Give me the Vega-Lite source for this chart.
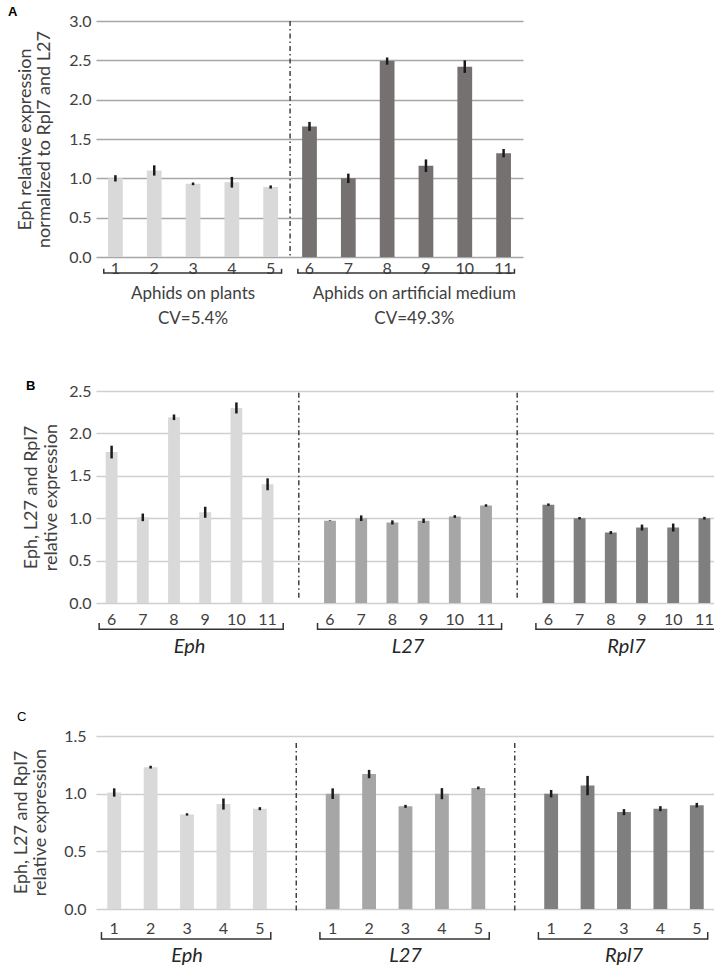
{
  "$schema": "https://vega.github.io/schema/vega-lite/v6.json",
  "padding": {"left": 8, "top": 5, "right": 2, "bottom": 2},
  "background": "white",
  "resolve": {"scale": {"color": "independent"}},
  "config": {
    "view": {"stroke": null},
    "font": "Lato",
    "axis": {"labelFont": "Lato", "titleFont": "Lato", "labelColor": "#404040", "titleColor": "#404040", "titleFontWeight": "normal"},
    "title": {"font": "Liberation Sans", "fontSize": 13, "fontWeight": "bold", "color": "#000000", "anchor": "start", "frame": "bounds"}
  },
  "datasets": {
    "A": [
      {"key": "1", "grp": "plants", "value": 1.00, "err": 0.04},
      {"key": "2", "grp": "plants", "value": 1.10, "err": 0.065},
      {"key": "3", "grp": "plants", "value": 0.93, "err": 0.017},
      {"key": "4", "grp": "plants", "value": 0.95, "err": 0.068},
      {"key": "5", "grp": "plants", "value": 0.89, "err": 0.02},
      {"key": "6", "grp": "medium", "value": 1.66, "err": 0.057},
      {"key": "7", "grp": "medium", "value": 1.00, "err": 0.06},
      {"key": "8", "grp": "medium", "value": 2.49, "err": 0.046},
      {"key": "9", "grp": "medium", "value": 1.16, "err": 0.08},
      {"key": "10", "grp": "medium", "value": 2.42, "err": 0.08},
      {"key": "11", "grp": "medium", "value": 1.32, "err": 0.053}
    ],
    "Agrp": [
      {"grp": "plants", "first": "1", "last": "5", "mid": "3", "label": "Aphids on plants\nCV=5.4%"},
      {"grp": "medium", "first": "6", "last": "11", "mid": "9", "label": "Aphids on artificial medium\nCV=49.3%"}
    ],
    "Adiv": [{"key": "6"}],
    "B": [
      {"key": "Eph-6", "gene": "Eph", "value": 1.78, "err": 0.075},
      {"key": "Eph-7", "gene": "Eph", "value": 1.01, "err": 0.045},
      {"key": "Eph-8", "gene": "Eph", "value": 2.19, "err": 0.033},
      {"key": "Eph-9", "gene": "Eph", "value": 1.07, "err": 0.065},
      {"key": "Eph-10", "gene": "Eph", "value": 2.30, "err": 0.065},
      {"key": "Eph-11", "gene": "Eph", "value": 1.40, "err": 0.07},
      {"key": "L27-6", "gene": "L27", "value": 0.97, "err": 0.004},
      {"key": "L27-7", "gene": "L27", "value": 1.00, "err": 0.033},
      {"key": "L27-8", "gene": "L27", "value": 0.95, "err": 0.024},
      {"key": "L27-9", "gene": "L27", "value": 0.97, "err": 0.026},
      {"key": "L27-10", "gene": "L27", "value": 1.02, "err": 0.016},
      {"key": "L27-11", "gene": "L27", "value": 1.15, "err": 0.014},
      {"key": "Rpl7-6", "gene": "Rpl7", "value": 1.16, "err": 0.014},
      {"key": "Rpl7-7", "gene": "Rpl7", "value": 1.00, "err": 0.014},
      {"key": "Rpl7-8", "gene": "Rpl7", "value": 0.83, "err": 0.018},
      {"key": "Rpl7-9", "gene": "Rpl7", "value": 0.89, "err": 0.035},
      {"key": "Rpl7-10", "gene": "Rpl7", "value": 0.89, "err": 0.047},
      {"key": "Rpl7-11", "gene": "Rpl7", "value": 1.00, "err": 0.016}
    ],
    "Bgrp": [
      {"first": "Eph-6", "last": "Eph-11", "mid": "Eph-9", "label": "Eph"},
      {"first": "L27-6", "last": "L27-11", "mid": "L27-9", "label": "L27"},
      {"first": "Rpl7-6", "last": "Rpl7-11", "mid": "Rpl7-9", "label": "Rpl7"}
    ],
    "Bdiv": [{"key": "g1"}, {"key": "g2"}],
    "C": [
      {"key": "Eph-1", "gene": "Eph", "value": 1.01, "err": 0.036},
      {"key": "Eph-2", "gene": "Eph", "value": 1.23, "err": 0.012},
      {"key": "Eph-3", "gene": "Eph", "value": 0.82, "err": 0.01},
      {"key": "Eph-4", "gene": "Eph", "value": 0.91, "err": 0.048},
      {"key": "Eph-5", "gene": "Eph", "value": 0.87, "err": 0.013},
      {"key": "L27-1", "gene": "L27", "value": 1.00, "err": 0.046},
      {"key": "L27-2", "gene": "L27", "value": 1.17, "err": 0.036},
      {"key": "L27-3", "gene": "L27", "value": 0.89, "err": 0.013},
      {"key": "L27-4", "gene": "L27", "value": 1.00, "err": 0.048},
      {"key": "L27-5", "gene": "L27", "value": 1.05, "err": 0.012},
      {"key": "Rpl7-1", "gene": "Rpl7", "value": 1.00, "err": 0.032},
      {"key": "Rpl7-2", "gene": "Rpl7", "value": 1.07, "err": 0.084},
      {"key": "Rpl7-3", "gene": "Rpl7", "value": 0.84, "err": 0.026},
      {"key": "Rpl7-4", "gene": "Rpl7", "value": 0.87, "err": 0.022},
      {"key": "Rpl7-5", "gene": "Rpl7", "value": 0.90, "err": 0.02}
    ],
    "Cgrp": [
      {"first": "Eph-1", "last": "Eph-5", "mid": "Eph-3", "label": "Eph"},
      {"first": "L27-1", "last": "L27-5", "mid": "L27-3", "label": "L27"},
      {"first": "Rpl7-1", "last": "Rpl7-5", "mid": "Rpl7-3", "label": "Rpl7"}
    ],
    "Cdiv": [{"key": "g1"}, {"key": "g2"}]
  },
  "vconcat": [
    {
      "width": 427, "height": 236,
      "title": {"text": "A", "dx": -8, "offset": -5.5},
      "resolve": {"axis": {"x": "independent", "y": "independent"}},
      "layer": [
        {
          "data": {"name": "A"},
          "mark": {"type": "bar", "width": {"band": 0.38}},
          "encoding": {
            "x": {"field": "key", "type": "nominal", "sort": null,
              "scale": {"domain": ["1","2","3","4","5","6","7","8","9","10","11"], "paddingInner": 0, "paddingOuter": 0},
              "axis": {"title": null, "ticks": false, "domain": false, "labelAngle": 0, "labelFontSize": 16, "labelPadding": 3}},
            "y": {"field": "value", "type": "quantitative",
              "scale": {"domain": [0, 3], "nice": false},
              "axis": {"values": [0, 0.5, 1, 1.5, 2, 2.5, 3], "format": ".1f", "ticks": false, "domain": false, "labelFontSize": 16, "labelPadding": 5,
                "gridColor": "#a6a6a6", "gridWidth": 1.5,
                "title": ["Eph relative expression", "normalized to Rpl7 and L27"], "titleFontSize": 18, "titleLineHeight": 19,
                "titleAngle": 270, "titleBaseline": "top", "titleAlign": "center", "titleX": -80, "titleY": 118}},
            "color": {"field": "grp", "type": "nominal", "scale": {"domain": ["plants", "medium"], "range": ["#d9d9d9", "#767171"]}, "legend": null}
          }
        },
        {
          "data": {"name": "A"},
          "mark": {"type": "errorbar", "thickness": 2.5, "color": "#1a1a1a"},
          "encoding": {
            "x": {"field": "key", "type": "nominal", "sort": null, "axis": null, "scale": {"domain": ["1","2","3","4","5","6","7","8","9","10","11"]}},
            "y": {"field": "value", "type": "quantitative", "axis": null},
            "yError": {"field": "err"}
          }
        },
        {
          "data": {"name": "Adiv"},
          "mark": {"type": "rule", "color": "#404040", "strokeWidth": 1.5, "strokeDash": [5, 3, 1.5, 3]},
          "encoding": {
            "x": {"field": "key", "type": "nominal", "sort": null, "axis": null, "bandPosition": 0, "scale": {"domain": ["1","2","3","4","5","6","7","8","9","10","11"]}},
            "y": {"datum": 3, "axis": null},
            "y2": {"datum": -0.01}
          }
        },
        {
          "data": {"name": "Agrp"},
          "mark": {"type": "rule", "color": "#333333", "strokeWidth": 1.5},
          "encoding": {
            "x": {"field": "first", "type": "nominal", "sort": null, "axis": null, "bandPosition": 0.2, "scale": {"domain": ["1","2","3","4","5","6","7","8","9","10","11"]}},
            "x2": {"field": "last", "bandPosition": 0.78},
            "y": {"datum": -0.203, "axis": null}
          }
        },
        {
          "data": {"name": "Agrp"},
          "mark": {"type": "rule", "color": "#333333", "strokeWidth": 1.5},
          "encoding": {
            "x": {"field": "first", "type": "nominal", "sort": null, "axis": null, "bandPosition": 0.2, "scale": {"domain": ["1","2","3","4","5","6","7","8","9","10","11"]}},
            "y": {"datum": -0.212, "axis": null},
            "y2": {"datum": -0.15}
          }
        },
        {
          "data": {"name": "Agrp"},
          "mark": {"type": "rule", "color": "#333333", "strokeWidth": 1.5},
          "encoding": {
            "x": {"field": "last", "type": "nominal", "sort": null, "axis": null, "bandPosition": 0.78, "scale": {"domain": ["1","2","3","4","5","6","7","8","9","10","11"]}},
            "y": {"datum": -0.212, "axis": null},
            "y2": {"datum": -0.15}
          }
        },
        {
          "data": {"name": "Agrp"},
          "transform": [{"filter": "datum.grp == 'plants'"}],
          "mark": {"type": "text", "fontSize": 17, "color": "#404040", "lineBreak": "\n", "lineHeight": 25, "baseline": "middle", "align": "center"},
          "encoding": {
            "x": {"field": "mid", "type": "nominal", "sort": null, "axis": null, "bandPosition": 0.5, "scale": {"domain": ["1","2","3","4","5","6","7","8","9","10","11"]}},
            "y": {"datum": -0.47, "axis": null},
            "text": {"field": "label"}
          }
        },
        {
          "data": {"name": "Agrp"},
          "transform": [{"filter": "datum.grp == 'medium'"}],
          "mark": {"type": "text", "fontSize": 17, "color": "#404040", "lineBreak": "\n", "lineHeight": 25, "baseline": "middle", "align": "center"},
          "encoding": {
            "x": {"field": "mid", "type": "nominal", "sort": null, "axis": null, "bandPosition": 0.2, "scale": {"domain": ["1","2","3","4","5","6","7","8","9","10","11"]}},
            "y": {"datum": -0.47, "axis": null},
            "text": {"field": "label"}
          }
        }
      ]
    },
    {
      "width": 624, "height": 212,
      "title": {"text": "B", "dx": 4, "offset": -9.5},
      "resolve": {"axis": {"x": "independent", "y": "independent"}},
      "layer": [
        {
          "data": {"name": "B"},
          "mark": {"type": "bar", "width": {"band": 0.38}},
          "encoding": {
            "x": {"field": "key", "type": "nominal", "sort": null,
              "scale": {"domain": ["Eph-6","Eph-7","Eph-8","Eph-9","Eph-10","Eph-11","g1","L27-6","L27-7","L27-8","L27-9","L27-10","L27-11","g2","Rpl7-6","Rpl7-7","Rpl7-8","Rpl7-9","Rpl7-10","Rpl7-11"], "paddingInner": 0, "paddingOuter": 0},
              "axis": {"title": null, "ticks": false, "domain": false, "labelAngle": 0, "labelFontSize": 16, "labelPadding": 8,
                "labelExpr": "indexof(datum.value, '-') >= 0 ? split(datum.value, '-')[1] : ''"}},
            "y": {"field": "value", "type": "quantitative",
              "scale": {"domain": [0, 2.5], "nice": false},
              "axis": {"values": [0, 0.5, 1, 1.5, 2, 2.5], "format": ".1f", "ticks": false, "domain": false, "labelFontSize": 16, "labelPadding": 5,
                "gridColor": "#cfcfcf", "gridWidth": 1.5,
                "title": ["Eph, L27 and Rpl7", "relative expression"], "titleFontSize": 18, "titleLineHeight": 20,
                "titleAngle": 270, "titleBaseline": "top", "titleAlign": "center", "titleX": -74, "titleY": 106}},
            "color": {"field": "gene", "type": "nominal", "scale": {"domain": ["Eph", "L27", "Rpl7"], "range": ["#d9d9d9", "#a6a6a6", "#7f7f7f"]}, "legend": null}
          }
        },
        {
          "data": {"name": "B"},
          "mark": {"type": "errorbar", "thickness": 2.5, "color": "#1a1a1a"},
          "encoding": {
            "x": {"field": "key", "type": "nominal", "sort": null, "axis": null, "scale": {"domain": ["Eph-6","Eph-7","Eph-8","Eph-9","Eph-10","Eph-11","g1","L27-6","L27-7","L27-8","L27-9","L27-10","L27-11","g2","Rpl7-6","Rpl7-7","Rpl7-8","Rpl7-9","Rpl7-10","Rpl7-11"]}},
            "y": {"field": "value", "type": "quantitative", "axis": null},
            "yError": {"field": "err"}
          }
        },
        {
          "data": {"name": "Bdiv"},
          "mark": {"type": "rule", "color": "#404040", "strokeWidth": 1.5, "strokeDash": [5, 3, 1.5, 3]},
          "encoding": {
            "x": {"field": "key", "type": "nominal", "sort": null, "axis": null, "bandPosition": 0.5, "scale": {"domain": ["Eph-6","Eph-7","Eph-8","Eph-9","Eph-10","Eph-11","g1","L27-6","L27-7","L27-8","L27-9","L27-10","L27-11","g2","Rpl7-6","Rpl7-7","Rpl7-8","Rpl7-9","Rpl7-10","Rpl7-11"]}},
            "y": {"datum": 2.48, "axis": null},
            "y2": {"datum": 0.05}
          }
        },
        {
          "data": {"name": "Bgrp"},
          "mark": {"type": "rule", "color": "#333333", "strokeWidth": 1.5},
          "encoding": {
            "x": {"field": "first", "type": "nominal", "sort": null, "axis": null, "bandPosition": 0.1, "scale": {"domain": ["Eph-6","Eph-7","Eph-8","Eph-9","Eph-10","Eph-11","g1","L27-6","L27-7","L27-8","L27-9","L27-10","L27-11","g2","Rpl7-6","Rpl7-7","Rpl7-8","Rpl7-9","Rpl7-10","Rpl7-11"]}},
            "x2": {"field": "last", "bandPosition": 1.0},
            "y": {"datum": -0.31, "axis": null}
          }
        },
        {
          "data": {"name": "Bgrp"},
          "mark": {"type": "rule", "color": "#333333", "strokeWidth": 1.5},
          "encoding": {
            "x": {"field": "first", "type": "nominal", "sort": null, "axis": null, "bandPosition": 0.1, "scale": {"domain": ["Eph-6","Eph-7","Eph-8","Eph-9","Eph-10","Eph-11","g1","L27-6","L27-7","L27-8","L27-9","L27-10","L27-11","g2","Rpl7-6","Rpl7-7","Rpl7-8","Rpl7-9","Rpl7-10","Rpl7-11"]}},
            "y": {"datum": -0.318, "axis": null},
            "y2": {"datum": -0.235}
          }
        },
        {
          "data": {"name": "Bgrp"},
          "mark": {"type": "rule", "color": "#333333", "strokeWidth": 1.5},
          "encoding": {
            "x": {"field": "last", "type": "nominal", "sort": null, "axis": null, "bandPosition": 1.0, "scale": {"domain": ["Eph-6","Eph-7","Eph-8","Eph-9","Eph-10","Eph-11","g1","L27-6","L27-7","L27-8","L27-9","L27-10","L27-11","g2","Rpl7-6","Rpl7-7","Rpl7-8","Rpl7-9","Rpl7-10","Rpl7-11"]}},
            "y": {"datum": -0.318, "axis": null},
            "y2": {"datum": -0.235}
          }
        },
        {
          "data": {"name": "Bgrp"},
          "mark": {"type": "text", "fontSize": 20, "fontStyle": "italic", "color": "#262626", "baseline": "middle", "align": "center"},
          "encoding": {
            "x": {"field": "mid", "type": "nominal", "sort": null, "axis": null, "bandPosition": 0, "scale": {"domain": ["Eph-6","Eph-7","Eph-8","Eph-9","Eph-10","Eph-11","g1","L27-6","L27-7","L27-8","L27-9","L27-10","L27-11","g2","Rpl7-6","Rpl7-7","Rpl7-8","Rpl7-9","Rpl7-10","Rpl7-11"]}},
            "y": {"datum": -0.52, "axis": null},
            "text": {"field": "label"}
          }
        }
      ]
    },
    {
      "width": 619, "height": 173,
      "title": {"text": "C", "dx": 5, "offset": 4.5, "fontWeight": "normal"},
      "resolve": {"axis": {"x": "independent", "y": "independent"}},
      "layer": [
        {
          "data": {"name": "C"},
          "mark": {"type": "bar", "width": {"band": 0.38}},
          "encoding": {
            "x": {"field": "key", "type": "nominal", "sort": null,
              "scale": {"domain": ["Eph-1","Eph-2","Eph-3","Eph-4","Eph-5","g1","L27-1","L27-2","L27-3","L27-4","L27-5","g2","Rpl7-1","Rpl7-2","Rpl7-3","Rpl7-4","Rpl7-5"], "paddingInner": 0, "paddingOuter": 0},
              "axis": {"title": null, "ticks": false, "domain": false, "labelAngle": 0, "labelFontSize": 16, "labelPadding": 11,
                "labelExpr": "indexof(datum.value, '-') >= 0 ? split(datum.value, '-')[1] : ''"}},
            "y": {"field": "value", "type": "quantitative",
              "scale": {"domain": [0, 1.5], "nice": false},
              "axis": {"values": [0, 0.5, 1, 1.5], "format": ".1f", "ticks": false, "domain": false, "labelFontSize": 16, "labelPadding": 10,
                "gridColor": "#cfcfcf", "gridWidth": 1.5,
                "title": ["Eph, L27 and Rpl7", "relative expression"], "titleFontSize": 18, "titleLineHeight": 19,
                "titleAngle": 270, "titleBaseline": "top", "titleAlign": "center", "titleX": -84, "titleY": 86}},
            "color": {"field": "gene", "type": "nominal", "scale": {"domain": ["Eph", "L27", "Rpl7"], "range": ["#d9d9d9", "#a6a6a6", "#7f7f7f"]}, "legend": null}
          }
        },
        {
          "data": {"name": "C"},
          "mark": {"type": "errorbar", "thickness": 2.5, "color": "#1a1a1a"},
          "encoding": {
            "x": {"field": "key", "type": "nominal", "sort": null, "axis": null, "scale": {"domain": ["Eph-1","Eph-2","Eph-3","Eph-4","Eph-5","g1","L27-1","L27-2","L27-3","L27-4","L27-5","g2","Rpl7-1","Rpl7-2","Rpl7-3","Rpl7-4","Rpl7-5"]}},
            "y": {"field": "value", "type": "quantitative", "axis": null},
            "yError": {"field": "err"}
          }
        },
        {
          "data": {"name": "Cdiv"},
          "mark": {"type": "rule", "color": "#404040", "strokeWidth": 1.5, "strokeDash": [5, 3, 1.5, 3]},
          "encoding": {
            "x": {"field": "key", "type": "nominal", "sort": null, "axis": null, "bandPosition": 0.5, "scale": {"domain": ["Eph-1","Eph-2","Eph-3","Eph-4","Eph-5","g1","L27-1","L27-2","L27-3","L27-4","L27-5","g2","Rpl7-1","Rpl7-2","Rpl7-3","Rpl7-4","Rpl7-5"]}},
            "y": {"datum": 1.44, "axis": null},
            "y2": {"datum": -0.03}
          }
        },
        {
          "data": {"name": "Cgrp"},
          "mark": {"type": "rule", "color": "#333333", "strokeWidth": 1.5},
          "encoding": {
            "x": {"field": "first", "type": "nominal", "sort": null, "axis": null, "bandPosition": 0.15, "scale": {"domain": ["Eph-1","Eph-2","Eph-3","Eph-4","Eph-5","g1","L27-1","L27-2","L27-3","L27-4","L27-5","g2","Rpl7-1","Rpl7-2","Rpl7-3","Rpl7-4","Rpl7-5"]}},
            "x2": {"field": "last", "bandPosition": 0.8},
            "y": {"datum": -0.26, "axis": null}
          }
        },
        {
          "data": {"name": "Cgrp"},
          "mark": {"type": "rule", "color": "#333333", "strokeWidth": 1.5},
          "encoding": {
            "x": {"field": "first", "type": "nominal", "sort": null, "axis": null, "bandPosition": 0.15, "scale": {"domain": ["Eph-1","Eph-2","Eph-3","Eph-4","Eph-5","g1","L27-1","L27-2","L27-3","L27-4","L27-5","g2","Rpl7-1","Rpl7-2","Rpl7-3","Rpl7-4","Rpl7-5"]}},
            "y": {"datum": -0.266, "axis": null},
            "y2": {"datum": -0.2}
          }
        },
        {
          "data": {"name": "Cgrp"},
          "mark": {"type": "rule", "color": "#333333", "strokeWidth": 1.5},
          "encoding": {
            "x": {"field": "last", "type": "nominal", "sort": null, "axis": null, "bandPosition": 0.8, "scale": {"domain": ["Eph-1","Eph-2","Eph-3","Eph-4","Eph-5","g1","L27-1","L27-2","L27-3","L27-4","L27-5","g2","Rpl7-1","Rpl7-2","Rpl7-3","Rpl7-4","Rpl7-5"]}},
            "y": {"datum": -0.266, "axis": null},
            "y2": {"datum": -0.2}
          }
        },
        {
          "data": {"name": "Cgrp"},
          "mark": {"type": "text", "fontSize": 20, "fontStyle": "italic", "color": "#262626", "baseline": "middle", "align": "center"},
          "encoding": {
            "x": {"field": "mid", "type": "nominal", "sort": null, "axis": null, "bandPosition": 0.5, "scale": {"domain": ["Eph-1","Eph-2","Eph-3","Eph-4","Eph-5","g1","L27-1","L27-2","L27-3","L27-4","L27-5","g2","Rpl7-1","Rpl7-2","Rpl7-3","Rpl7-4","Rpl7-5"]}},
            "y": {"datum": -0.41, "axis": null},
            "text": {"field": "label"}
          }
        }
      ]
    }
  ],
  "spacing": 52
}
